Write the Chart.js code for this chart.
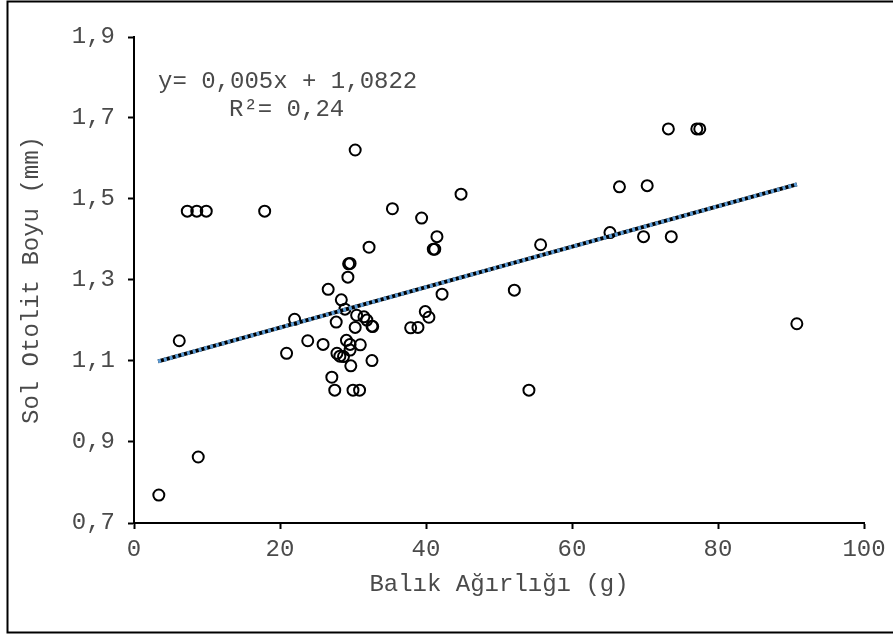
<!DOCTYPE html>
<html>
<head>
<meta charset="utf-8">
<script src="https://cdn.jsdelivr.net/npm/chart.js@4"></script>
<style>
  body { margin: 0; background: #fff; }
</style>
</head>
<body>
<canvas id="otolitChart" width="893" height="639"></canvas>
<script>
// Balık ağırlığı (g) ve sol otolit boyu (mm)
const weights = [3.4, 6.2, 7.3, 8.6, 9.9, 8.8, 17.9, 20.9, 22.0, 23.8, 25.9, 26.6, 27.1, 27.5, 27.7, 27.8,
  28.2, 28.4, 28.7, 28.9, 29.1, 29.3, 29.4, 29.6, 29.6, 29.6, 29.7, 30.0, 30.3, 30.3, 30.5, 30.9, 31.0,
  31.5, 31.9, 32.2, 32.6, 32.7, 32.6, 35.4, 37.9, 38.9, 39.4, 39.9, 40.4, 41.0, 41.2, 41.5, 42.2, 44.8,
  52.1, 54.1, 55.7, 65.2, 66.5, 69.8, 70.3, 73.2, 73.6, 77.1, 77.5, 90.8];
const otolith = [0.769, 1.150, 1.470, 1.470, 1.470, 0.863, 1.470, 1.119, 1.203, 1.150, 1.141, 1.277, 1.060, 1.028, 1.196, 1.119,
  1.112, 1.251, 1.111, 1.228, 1.151, 1.307, 1.340, 1.341, 1.141, 1.127, 1.088, 1.028, 1.183, 1.621, 1.213, 1.028, 1.140,
  1.209, 1.201, 1.381, 1.186, 1.185, 1.101, 1.476, 1.182, 1.183, 1.453, 1.222, 1.208, 1.376, 1.376, 1.407, 1.265, 1.512,
  1.275, 1.028, 1.387, 1.417, 1.530, 1.407, 1.533, 1.673, 1.407, 1.673, 1.673, 1.192];

// trend line ends
const trendX = [3.3, 90.8];
const trendY = [1.099, 1.536];

const xTicks = [0, 20, 40, 60, 80, 100];
const yTicks = [0.7, 0.9, 1.1, 1.3, 1.5, 1.7, 1.9];

const equationText = "y= 0,005x + 1,0822";
const r2Text = "R²= 0,24";

const textColor = "#4a4a4a";
const monoFont = "'Liberation Mono', 'Courier New', monospace";

const points = weights.map((w, i) => ({ x: w, y: otolith[i] }));
const trend = trendX.map((t, i) => ({ x: t, y: trendY[i] }));

const frame = {
  id: "frame",
  beforeDraw(chart) {
    const ctx = chart.ctx;
    ctx.save();
    ctx.fillStyle = "#fff";
    ctx.fillRect(0, 0, chart.width, chart.height);
    ctx.strokeStyle = "#000";
    ctx.lineWidth = 2;
    ctx.strokeRect(7.5, 1.5, 900, 631);
    ctx.restore();
  },
  afterDraw(chart) {
    const ctx = chart.ctx;
    ctx.save();
    ctx.font = "24px " + monoFont;
    ctx.fillStyle = textColor;
    ctx.textBaseline = "middle";
    ctx.textAlign = "left";
    ctx.fillText(equationText, 158, 82);
    ctx.fillText(r2Text, 229, 110);
    ctx.restore();
  }
};

new Chart(document.getElementById("otolitChart"), {
  type: "scatter",
  data: {
    datasets: [
      {
        type: "line",
        data: trend,
        order: 0,
        borderColor: "#5b9bd5",
        borderWidth: 4,
        borderDash: [3, 3],
        borderCapStyle: "butt",
        pointRadius: 0,
        fill: false
      },
      {
        type: "line",
        data: trend,
        order: 1,
        borderColor: "#000",
        borderWidth: 4,
        pointRadius: 0,
        fill: false
      },
      {
        data: points,
        order: 2,
        pointRadius: 5.5,
        pointBorderWidth: 2,
        pointBorderColor: "#000",
        pointBackgroundColor: "rgba(0,0,0,0)"
      }
    ]
  },
  options: {
    responsive: false,
    animation: false,
    layout: { padding: { left: 0, top: 37, right: 29, bottom: 0 } },
    plugins: {
      legend: { display: false },
      tooltip: { enabled: false }
    },
    scales: {
      x: {
        type: "linear",
        min: 0,
        max: 100,
        afterFit: s => { s.height = 116; },
        afterBuildTicks: s => { s.ticks = xTicks.map(v => ({ value: v })); },
        grid: { drawOnChartArea: false, drawTicks: true, tickLength: 6, tickColor: "#000", tickWidth: 2 },
        border: { color: "#000", width: 2 },
        ticks: { color: textColor, padding: 6, font: { family: monoFont, size: 24 } },
        title: {
          display: true,
          text: "Balık Ağırlığı (g)",
          color: textColor,
          font: { family: monoFont, size: 24 },
          padding: { top: 0, bottom: 40 }
        }
      },
      y: {
        min: 0.7,
        max: 1.9,
        afterFit: s => { s.width = 134; },
        afterBuildTicks: s => { s.ticks = yTicks.map(v => ({ value: v })); },
        grid: { drawOnChartArea: false, drawTicks: true, tickLength: 6, tickColor: "#000", tickWidth: 2 },
        border: { color: "#000", width: 2 },
        ticks: {
          color: textColor,
          padding: 13,
          font: { family: monoFont, size: 24 },
          callback: v => v.toFixed(1).replace(".", ",")
        },
        title: {
          display: true,
          text: "Sol Otolit Boyu (mm)",
          color: textColor,
          font: { family: monoFont, size: 24 },
          padding: { top: 17, bottom: 0 }
        }
      }
    }
  },
  plugins: [frame]
});
</script>
</body>
</html>
